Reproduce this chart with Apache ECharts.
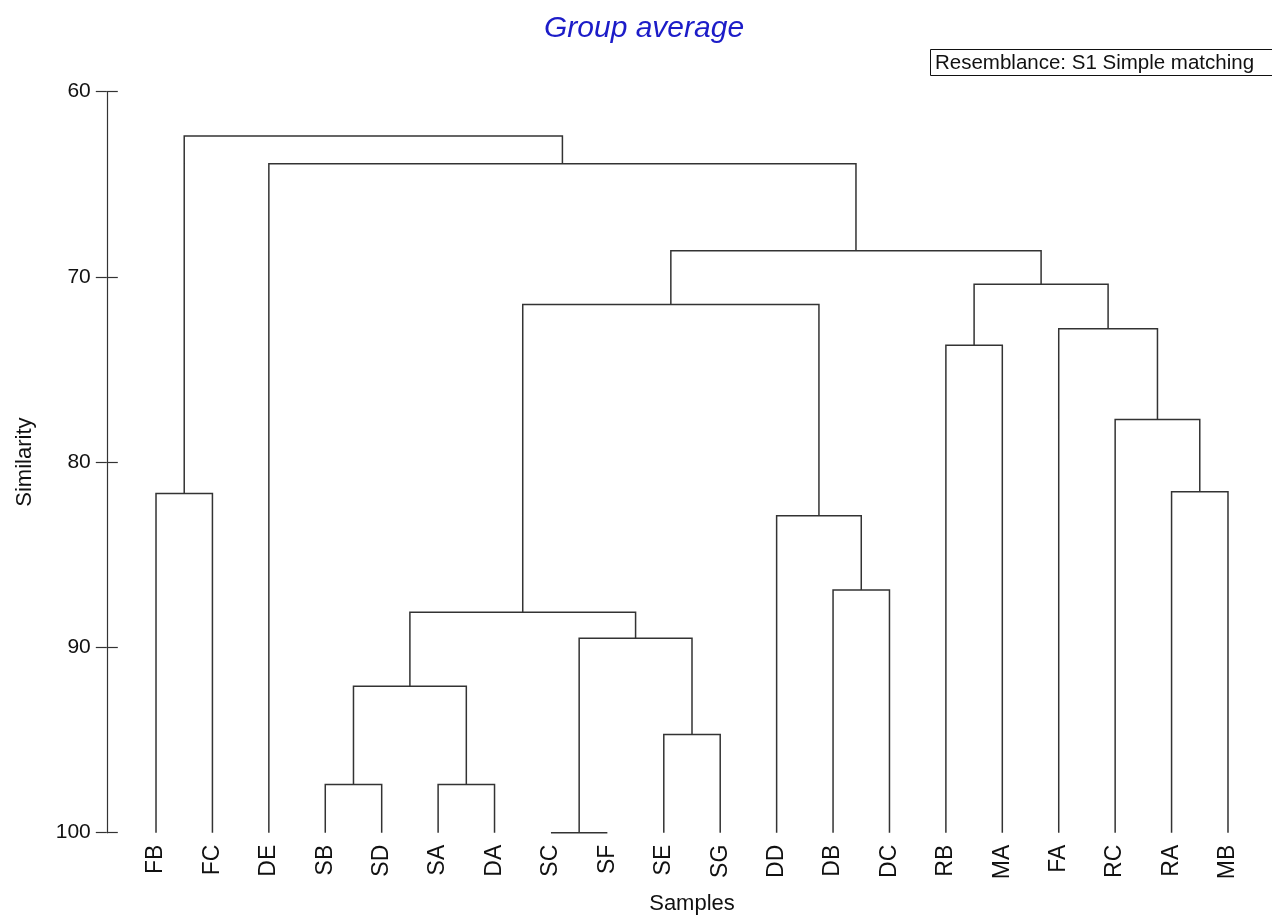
<!DOCTYPE html>
<html>
<head>
<meta charset="utf-8">
<script src="https://cdn.jsdelivr.net/npm/echarts@6/dist/echarts.min.js"></script>
<style>html,body{margin:0;padding:0;background:#fff}#c{width:1272px;height:918px}</style>
</head>
<body>
<div id="c"></div>
<script>
// Leaf order (x-axis categories)
const leaves = ['FB','FC','DE','SB','SD','SA','DA','SC','SF','SE','SG','DD','DB','DC','RB','MA','FA','RC','RA','MB'];
// Merge list: [child A, child B, similarity]; ids 0..19 are leaves, merges get ids 20, 21, ...
const mergeA = [0, 3, 5, 21, 7, 9, 24, 23, 12, 11, 27, 14, 18, 17, 16, 31, 30, 2, 20];
const mergeB = [1, 4, 6, 22, 8, 10, 25, 26, 13, 28, 29, 15, 19, 32, 33, 34, 35, 36, 37];
const mergeSim = [81.7, 97.4, 97.4, 92.1, 100, 94.7, 89.5, 88.1, 86.9, 82.9, 71.5, 73.7, 81.6, 77.7, 72.8, 70.4, 68.6, 63.9, 62.4];
const yTicks = [60, 70, 80, 90, 100];
const leafSim = 100;

// build node positions from the tree
const nodeX = leaves.map((_, i) => i);
const nodeH = leaves.map(() => leafSim);
const segs = [];
for (let k = 0; k < mergeSim.length; k++) {
  const a = mergeA[k], b = mergeB[k], h = mergeSim[k];
  segs.push([nodeX[a], nodeH[a], nodeX[b], nodeH[b], h]);
  nodeX.push((nodeX[a] + nodeX[b]) / 2);
  nodeH.push(h);
}

const FONT = 'Liberation Sans, Arial, sans-serif';
const chart = echarts.init(document.getElementById('c'));
chart.setOption({
  animation: false,
  backgroundColor: '#fff',
  grid: { left: 127.8, right: 15.8, top: 91.5, bottom: 85.3, containLabel: false, outerBoundsMode: 'none' },
  xAxis: [
    {
      type: 'category', data: leaves, boundaryGap: true, position: 'bottom',
      axisLine: { show: false }, axisTick: { show: false },
      axisLabel: { rotate: 90, margin: 12, fontSize: 23, color: '#111', fontFamily: FONT, interval: 0 },
      name: 'Samples', nameLocation: 'middle', nameGap: 60,
      nameTextStyle: { fontSize: 22, color: '#111', fontFamily: FONT }
    },
    {
      type: 'value', min: -0.5, max: leaves.length - 0.5, show: false
    }
  ],
  yAxis: [
    {
      type: 'value', inverse: true, min: 60, max: 100, interval: 10, offset: 21, position: 'left',
      axisLine: { show: true, onZero: false, lineStyle: { color: '#333', width: 1.2 } },
      axisTick: { show: true, length: 11, lineStyle: { color: '#333', width: 1.2 } },
      axisLabel: { fontSize: 21, color: '#111', margin: 16, fontFamily: FONT, customValues: yTicks },
      splitLine: { show: false },
      name: 'Similarity', nameLocation: 'middle', nameGap: 71, nameRotate: 90,
      nameTextStyle: { fontSize: 22, color: '#111', fontFamily: FONT }
    },
    {
      type: 'value', inverse: true, min: 60, max: 100, interval: 10, offset: 21, position: 'left',
      axisLine: { show: false, onZero: false },
      axisTick: { show: true, inside: true, length: 11, lineStyle: { color: '#333', width: 1.2 } },
      axisLabel: { show: false }, splitLine: { show: false }
    }
  ],
  graphic: [
    { type: 'text', x: 644, y: 29, style: { text: 'Group average', font: 'italic 30px ' + FONT, fill: '#1c1cc8', align: 'center', verticalAlign: 'middle' } },
    { type: 'rect', shape: { x: 930.5, y: 49.5, width: 360, height: 26 }, style: { fill: '#fff', stroke: '#111', lineWidth: 1 } },
    { type: 'text', x: 935, y: 63, style: { text: 'Resemblance: S1 Simple matching', font: '20.5px ' + FONT, fill: '#111', verticalAlign: 'middle' } }
  ],
  series: [{
    type: 'custom', xAxisIndex: 1, yAxisIndex: 0,
    data: segs,
    renderItem: function (params, api) {
      const p1 = api.coord([api.value(0), api.value(1)]);
      const p2 = api.coord([api.value(0), api.value(4)]);
      const p3 = api.coord([api.value(2), api.value(4)]);
      const p4 = api.coord([api.value(2), api.value(3)]);
      return { type: 'polyline', shape: { points: [p1, p2, p3, p4] }, style: { stroke: '#333', lineWidth: 1.5, fill: null } };
    }
  }]
});
</script>
</body>
</html>
